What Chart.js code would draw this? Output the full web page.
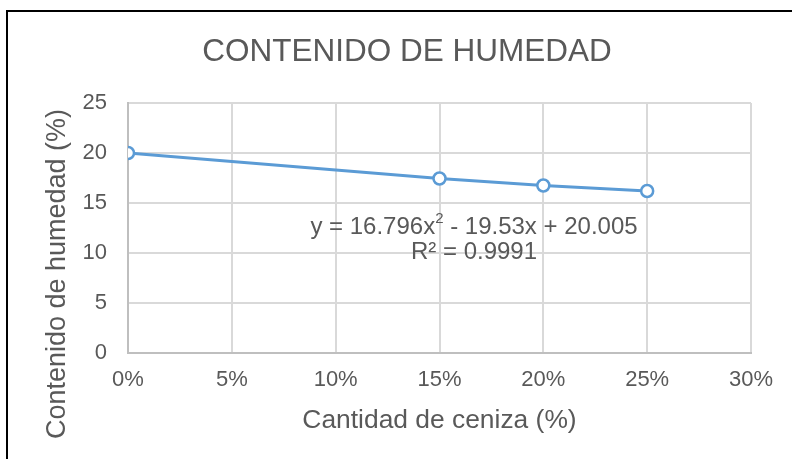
<!DOCTYPE html>
<html>
<head>
<meta charset="utf-8">
<script src="https://cdn.jsdelivr.net/npm/chart.js@4/dist/chart.umd.min.js"></script>
<style>
  html, body { margin: 0; padding: 0; background: #fff; }
  #wrap { position: relative; width: 792px; height: 459px; }
  #frame { position: absolute; left: 6px; top: 10px; width: 800px; height: 460px; border-left: 2px solid #000; border-top: 2px solid #000; pointer-events: none; }
  canvas { position: absolute; left: 0; top: 0; }
</style>
</head>
<body>
<div id="wrap">
  <canvas id="c" width="792" height="459"></canvas>
  <div id="frame"></div>
</div>
<script>
const chartTitle = "CONTENIDO DE HUMEDAD";
const xAxisTitle = "Cantidad de ceniza (%)";
const yAxisTitle = "Contenido de humedad (%)";
const ashFraction = [0, 0.15, 0.20, 0.25];
const moisture = [20.0, 17.45, 16.75, 16.2];
const xTicks = [0, 0.05, 0.10, 0.15, 0.20, 0.25, 0.30];
const yTicks = [0, 5, 10, 15, 20, 25];
const eqMain = "y = 16.796x";
const eqSup = "2";
const eqRest = " - 19.53x + 20.005";
const r2Text = "R² = 0.9991";

const FONT = "'Liberation Sans', Arial, sans-serif";
const GREY = "#595959";

const textPlugin = {
  id: 'texts',
  afterDraw(chart) {
    const ctx = chart.ctx;
    const ca = chart.chartArea;
    ctx.save();
    ctx.fillStyle = GREY;
    ctx.textBaseline = 'middle';
    // title
    ctx.font = "31.5px " + FONT;
    ctx.textAlign = 'center';
    ctx.fillText(chartTitle, 407, 52);
    // x title
    ctx.font = "26.4px " + FONT;
    ctx.fillText(xAxisTitle, (ca.left + ca.right) / 2, 421);
    // y title
    ctx.save();
    ctx.font = "27px " + FONT;
    ctx.translate(58, 274);
    ctx.rotate(-Math.PI / 2);
    ctx.fillText(yAxisTitle, 0, 0);
    ctx.restore();
    // equation
    ctx.font = "24px " + FONT;
    const w1 = ctx.measureText(eqMain).width;
    const w3 = ctx.measureText(eqRest).width;
    ctx.font = "15px " + FONT;
    const w2 = ctx.measureText(eqSup).width;
    const total = w1 + w2 + w3;
    let x0 = 474 - total / 2;
    ctx.textAlign = 'left';
    ctx.font = "24px " + FONT;
    ctx.fillText(eqMain, x0, 227);
    ctx.font = "15px " + FONT;
    ctx.fillText(eqSup, x0 + w1, 219);
    ctx.font = "24px " + FONT;
    ctx.fillText(eqRest, x0 + w1 + w2, 227);
    ctx.textAlign = 'center';
    ctx.fillText(r2Text, 474, 252);
    ctx.restore();
  }
};

new Chart(document.getElementById('c'), {
  type: 'scatter',
  data: {
    datasets: [{
      data: ashFraction.map((x, i) => ({ x: x, y: moisture[i] })),
      showLine: true,
      borderColor: '#5B9BD5',
      borderWidth: 3,
      pointRadius: 6,
      pointHoverRadius: 6,
      pointBorderWidth: 2.5,
      pointBorderColor: '#5B9BD5',
      pointBackgroundColor: '#ffffff',
      tension: 0
    }]
  },
  plugins: [textPlugin],
  options: {
    responsive: false,
    animation: false,
    events: [],
    layout: { padding: { top: 103, right: 41, left: 0, bottom: 0 } },
    plugins: { legend: { display: false }, tooltip: { enabled: false }, title: { display: false } },
    scales: {
      x: {
        type: 'linear',
        min: 0, max: 0.30,
        afterBuildTicks(scale) { scale.ticks = xTicks.map(v => ({ value: v })); },
        afterFit(scale) { scale.height = 106; },
        grid: { color: '#D9D9D9', lineWidth: 2, drawTicks: false },
        border: { display: true, color: '#BFBFBF', width: 2 },
        ticks: {
          color: GREY,
          font: { size: 22, family: FONT },
          padding: 14,
          maxRotation: 0,
          callback: v => Math.round(v * 100) + '%'
        }
      },
      y: {
        type: 'linear',
        min: 0, max: 25,
        afterBuildTicks(scale) { scale.ticks = yTicks.map(v => ({ value: v })); },
        afterFit(scale) { scale.width = 128; },
        grid: { color: '#D9D9D9', lineWidth: 2, drawTicks: false },
        border: { display: true, color: '#BFBFBF', width: 2 },
        ticks: {
          color: GREY,
          font: { size: 22, family: FONT },
          padding: 21
        }
      }
    }
  }
});
</script>
</body>
</html>
